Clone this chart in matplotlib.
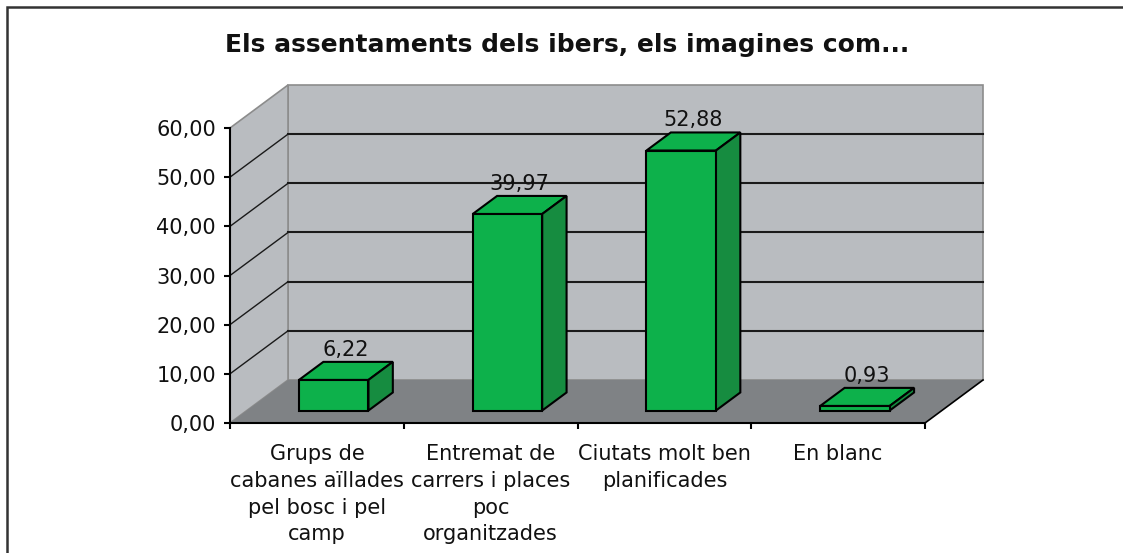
import matplotlib
matplotlib.use("Agg")
import matplotlib.pyplot as plt
from matplotlib.patches import Polygon, Rectangle

# data
categories = ["Grups de\ncabanes aïllades\npel bosc i pel\ncamp",
              "Entremat de\ncarrers i places\npoc\norganitzades",
              "Ciutats molt ben\nplanificades",
              "En blanc"]
values = [6.22, 39.97, 52.88, 0.93]
yticks = [0, 10, 20, 30, 40, 50, 60]
title = "Els assentaments dels ibers, els imagines com..."

plt.rcParams['font.family'] = ['DejaVu Sans']

W, H = 1123, 553
fig = plt.figure(figsize=(W / 100, H / 100), dpi=100)
ax = fig.add_axes([230 / W, 130 / H, 695 / W, 295 / H])
ax.set_xlim(0, 4)
ax.set_ylim(0, 60)
ax.patch.set_visible(False)

# oblique depth offset (data units)
DX, DY = 0.334, 8.75
wall = '#b9bcc0'
floor = '#7f8285'
edge = '#8c8c8c'
n = len(values)

# walls and floor
ax.add_patch(Polygon([(DX, DY), (n + DX, DY), (n + DX, 60 + DY), (DX, 60 + DY)],
                     closed=True, facecolor=wall, edgecolor=edge, lw=1.2, clip_on=False, zorder=1))
ax.add_patch(Polygon([(0, 0), (DX, DY), (DX, 60 + DY), (0, 60)],
                     closed=True, facecolor=wall, edgecolor=edge, lw=1.2, clip_on=False, zorder=1))
ax.add_patch(Polygon([(0, 0), (n, 0), (n + DX, DY), (DX, DY)],
                     closed=True, facecolor=floor, edgecolor='none', clip_on=False, zorder=1))
ax.plot([n, n + DX], [0, DY], color='black', lw=1.2, clip_on=False, zorder=2)

# gridlines on back and side walls
for v in yticks[1:-1]:
    ax.plot([DX, n + DX], [v + DY, v + DY], color='#1a1a1a', lw=1.5, clip_on=False, zorder=2)
    ax.plot([0, DX], [v, v + DY], color='#1a1a1a', lw=1.0, clip_on=False, zorder=2)

# 3d bars
green = '#0db14b'
dark = '#168c40'
f0, bd, w = 0.29, 0.42, 0.40
centers = [i + 0.5 + f0 * DX for i in range(n)]
base = f0 * DY
ax.bar(centers, values, width=w, bottom=base, color=green, edgecolor='black',
       lw=1.5, zorder=5, clip_on=False)
for c, v in zip(centers, values):
    x0 = c - w / 2
    top = base + v
    ax.add_patch(Polygon([(x0, top), (x0 + w, top), (x0 + w + bd * DX, top + bd * DY),
                          (x0 + bd * DX, top + bd * DY)], closed=True, facecolor=green,
                         edgecolor='black', lw=1.5, zorder=4, clip_on=False))
    ax.add_patch(Polygon([(x0 + w, base), (x0 + w + bd * DX, base + bd * DY),
                          (x0 + w + bd * DX, top + bd * DY), (x0 + w, top)], closed=True,
                         facecolor=dark, edgecolor='black', lw=1.5, zorder=4, clip_on=False))
    ax.annotate(f"{v:.2f}".replace('.', ','), xy=(c + bd * DX / 2, top + bd * DY),
                xytext=(0, 1.5), textcoords='offset points', ha='center', va='bottom',
                fontsize=15, color='#111111', zorder=6)

# axes
for s in ['top', 'right']:
    ax.spines[s].set_visible(False)
for s in ['left', 'bottom']:
    ax.spines[s].set_linewidth(1.5)
    ax.spines[s].set_zorder(3)
ax.set_yticks(yticks)
ax.set_yticklabels([f"{t:.2f}".replace('.', ',') for t in yticks], fontsize=15, color='#111111')
ax.set_xticks(range(n + 1))
ax.set_xticklabels([])
ax.tick_params(axis='both', direction='out', length=4, width=1.5, color='black')
ax.tick_params(axis='y', pad=6)
for i, lab in enumerate(categories):
    ax.text(i + 0.5, -4.3, lab, ha='center', va='top', fontsize=15, color='#111111',
            linespacing=1.42)

fig.text(567 / W, 1 - 45 / H, title, ha='center', va='center', fontsize=18,
         fontweight='bold', color='#111111')

# outer frame
fig.patches.append(Rectangle((7 / W, -0.1), 1.2, 1 - 7.5 / H + 0.1, transform=fig.transFigure,
                             fill=False, edgecolor='#333333', lw=1.8))

fig.savefig("out.png", dpi=100)
